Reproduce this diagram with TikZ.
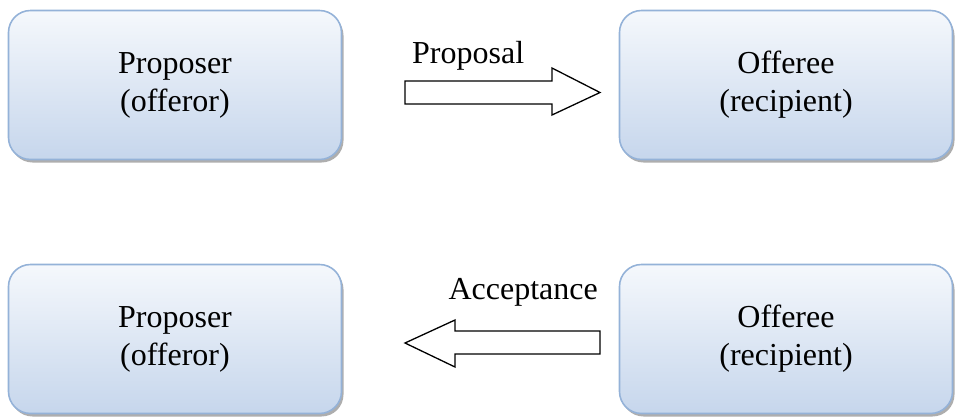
\documentclass[tikz,border=0pt]{standalone}
\usepackage{fontspec}
\setmainfont{Liberation Serif}
\usetikzlibrary{shadows}
\definecolor{boxtop}{HTML}{F5F8FC}
\definecolor{boxbot}{HTML}{C6D6EC}
\definecolor{boxline}{HTML}{94B2D8}
\tikzset{
  party/.style={rounded corners=22pt, draw=boxline, line width=1.6pt,
    top color=boxtop, bottom color=boxbot,
    drop shadow={shadow xshift=2pt, shadow yshift=-3pt, fill=black!45, opacity=0.7},
    minimum width=333pt, minimum height=149pt, align=center,
    font=\fontsize{32}{38}\selectfont, inner sep=0pt},
  blockarrow/.style={draw=black, line width=1.3pt, fill=white, line join=miter},
  lab/.style={font=\fontsize{32}{38}\selectfont, inner sep=0pt}
}
\begin{document}
\begin{tikzpicture}[x=1pt,y=-1pt]
\useasboundingbox (0,0) rectangle (962,416);
\node[party] (p1) at (175,85) {Proposer\\(offeror)};
\node[party] (o1) at (786,85) {Offeree\\(recipient)};
\node[party] (p2) at (175,339) {Proposer\\(offeror)};
\node[party] (o2) at (786,339) {Offeree\\(recipient)};
% top arrow
\coordinate (a1) at (405,92.5);
\draw[blockarrow] (405,81) -- (552,81) -- (552,68) -- (600,92.5) -- (552,115) -- (552,104) -- (405,104) -- cycle;
\node[lab, anchor=base west] (t1) at (412,63) {Proposal};
% bottom arrow
\draw[blockarrow] (600,331) -- (455,331) -- (455,320) -- (405,343) -- (455,367) -- (455,354) -- (600,354) -- cycle;
\node[lab, anchor=base east] (t2) at (598,299) {Acceptance};
\end{tikzpicture}
\end{document}
